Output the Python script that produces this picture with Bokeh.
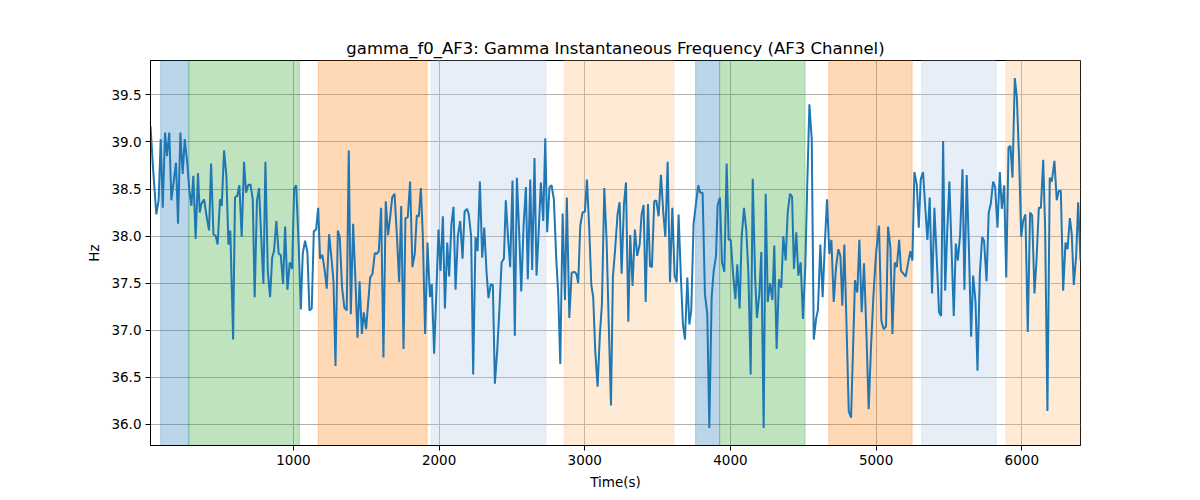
from bokeh.plotting import figure
from bokeh.models import Range1d, BoxAnnotation, FixedTicker, PrintfTickFormatter
from bokeh.embed import file_html
from bokeh.resources import INLINE

# ---- data ----
time_s = [19, 36, 59, 75, 89, 103, 119, 132, 148, 162, 194, 208, 224, 240, 254, 272, 286, 300, 313, 329,
          345, 357, 368, 387, 405, 421, 435, 451, 467, 480, 496, 508, 524, 540, 554, 567, 586, 599, 615, 629,
          645, 661, 675, 689, 705, 721, 734, 750, 764, 778, 794, 808, 824, 840, 854, 867, 883, 899, 913, 929,
          943, 959, 975, 991, 1005, 1019, 1035, 1051, 1064, 1080, 1096, 1110, 1126, 1140, 1156, 1170, 1183, 1199, 1215, 1229,
          1245, 1261, 1275, 1289, 1305, 1318, 1334, 1350, 1366, 1380, 1394, 1410, 1426, 1440, 1454, 1470, 1483, 1499, 1513, 1527,
          1543, 1559, 1573, 1586, 1602, 1618, 1634, 1650, 1664, 1678, 1694, 1710, 1726, 1740, 1756, 1769, 1785, 1801, 1817, 1833,
          1847, 1861, 1875, 1888, 1904, 1921, 1937, 1950, 1966, 1980, 1996, 2010, 2026, 2040, 2056, 2069, 2085, 2099, 2113, 2129,
          2145, 2161, 2175, 2191, 2204, 2220, 2234, 2250, 2264, 2280, 2296, 2310, 2326, 2339, 2355, 2369, 2383, 2399, 2413, 2429,
          2445, 2458, 2474, 2488, 2504, 2520, 2534, 2550, 2564, 2580, 2596, 2609, 2626, 2639, 2655, 2669, 2685, 2699, 2715, 2729,
          2742, 2758, 2772, 2788, 2804, 2818, 2832, 2848, 2864, 2877, 2894, 2910, 2928, 2942, 2955, 2969, 2985, 3001, 3015, 3031,
          3045, 3058, 3072, 3088, 3104, 3118, 3134, 3150, 3164, 3180, 3193, 3209, 3225, 3239, 3253, 3269, 3283, 3299, 3312, 3328,
          3344, 3360, 3377, 3390, 3404, 3418, 3434, 3448, 3461, 3477, 3491, 3507, 3523, 3539, 3553, 3569, 3585, 3601, 3617, 3631,
          3644, 3660, 3674, 3688, 3704, 3718, 3731, 3747, 3763, 3779, 3793, 3809, 3825, 3841, 3855, 3871, 3885, 3901, 3912, 3928,
          3942, 3958, 3974, 3988, 4002, 4018, 4034, 4047, 4063, 4077, 4093, 4109, 4123, 4139, 4153, 4169, 4182, 4198, 4212, 4228,
          4242, 4256, 4272, 4288, 4301, 4317, 4333, 4349, 4363, 4379, 4393, 4409, 4423, 4436, 4452, 4466, 4482, 4498, 4514, 4528,
          4542, 4558, 4572, 4588, 4601, 4617, 4633, 4649, 4663, 4679, 4693, 4709, 4725, 4741, 4755, 4768, 4782, 4798, 4812, 4828,
          4842, 4855, 4871, 4885, 4901, 4917, 4933, 4949, 4965, 4981, 4999, 5020, 5036, 5052, 5068, 5082, 5098, 5112, 5128, 5142,
          5158, 5171, 5187, 5203, 5219, 5235, 5249, 5263, 5279, 5293, 5306, 5322, 5338, 5352, 5368, 5384, 5400, 5416, 5432, 5446,
          5460, 5474, 5487, 5503, 5517, 5533, 5547, 5561, 5577, 5593, 5606, 5622, 5638, 5652, 5666, 5682, 5696, 5712, 5728, 5741,
          5758, 5773, 5787, 5803, 5817, 5833, 5849, 5863, 5879, 5893, 5909, 5922, 5936, 5952, 5966, 5982, 5996, 6009, 6025, 6041,
          6057, 6071, 6087, 6101, 6117, 6131, 6147, 6160, 6176, 6192, 6206, 6224, 6240, 6254, 6268, 6284, 6300, 6314, 6330, 6343,
          6357, 6373, 6387, 6403]

freq_hz = [39.17, 38.73, 38.23, 38.38, 39.03, 38.30, 39.10, 38.85, 39.10, 38.38, 38.78, 38.13, 39.10, 38.66, 39.03, 38.77, 38.48, 38.32, 38.64, 37.97,
           38.67, 38.25, 38.34, 38.39, 38.20, 38.06, 38.77, 38.02, 38.00, 37.91, 38.39, 38.32, 38.91, 38.64, 37.91, 38.06, 36.90, 38.41, 38.43, 38.54,
           37.99, 38.79, 38.46, 38.54, 38.55, 38.39, 37.35, 38.38, 38.51, 38.02, 37.49, 38.79, 37.63, 37.35, 37.77, 37.84, 38.16, 37.81, 37.80, 37.49,
           38.10, 37.43, 37.72, 37.65, 38.50, 38.54, 37.95, 37.22, 37.81, 37.95, 37.83, 37.21, 37.23, 38.05, 38.07, 38.30, 37.76, 37.80, 37.63, 37.44,
           38.02, 37.77, 37.52, 36.62, 38.06, 37.99, 37.45, 37.24, 37.21, 38.91, 37.17, 38.13, 37.52, 36.92, 37.52, 36.96, 37.19, 37.01, 37.29, 37.56,
           37.60, 37.82, 37.81, 37.84, 38.30, 36.71, 38.37, 38.01, 38.20, 38.41, 38.45, 38.02, 37.51, 38.32, 36.80, 38.19, 38.20, 38.58, 37.67, 37.81,
           38.22, 38.21, 38.51, 38.02, 36.96, 37.93, 37.35, 37.49, 36.75, 37.35, 38.07, 37.63, 38.21, 37.23, 37.93, 37.57, 38.13, 38.31, 37.43, 38.00,
           38.16, 37.76, 38.26, 38.29, 38.23, 38.00, 36.53, 37.99, 37.84, 38.58, 37.77, 38.09, 37.61, 37.34, 37.49, 37.48, 36.43, 36.78, 37.19, 37.72,
           37.76, 38.38, 37.97, 37.67, 38.59, 36.94, 38.62, 38.03, 37.41, 38.11, 38.52, 37.54, 38.60, 37.64, 38.83, 37.58, 38.09, 38.57, 38.16, 39.04,
           38.04, 38.52, 38.54, 38.39, 37.77, 37.38, 36.64, 38.24, 37.32, 38.41, 37.13, 37.61, 37.62, 37.60, 37.50, 38.11, 38.25, 38.26, 38.60, 38.07,
           37.48, 37.35, 36.78, 36.40, 36.96, 37.28, 38.51, 37.95, 37.10, 36.20, 37.56, 37.87, 38.23, 38.36, 37.60, 38.34, 38.57, 37.09, 38.01, 37.47,
           38.07, 37.79, 37.91, 38.23, 38.33, 37.30, 38.34, 37.68, 37.67, 38.37, 38.38, 38.21, 38.65, 38.25, 37.99, 38.79, 37.51, 38.30, 37.58, 37.51,
           38.23, 37.56, 37.06, 36.90, 37.56, 37.06, 37.21, 38.13, 38.34, 38.54, 38.46, 38.46, 37.38, 37.17, 35.96, 37.35, 37.63, 37.79, 38.33, 38.41,
           37.72, 37.62, 38.77, 37.96, 37.96, 37.60, 37.33, 37.70, 37.23, 37.99, 38.30, 38.06, 37.61, 36.53, 38.61, 37.58, 37.13, 37.38, 37.83, 35.96,
           38.45, 37.30, 37.50, 37.32, 37.90, 36.80, 37.54, 37.45, 38.00, 37.74, 38.25, 38.45, 38.42, 37.65, 38.04, 37.58, 37.72, 37.12, 37.68, 38.59,
           39.40, 39.03, 36.90, 37.12, 37.22, 37.91, 37.35, 37.95, 38.39, 37.81, 37.96, 37.30, 37.67, 37.86, 37.79, 37.26, 37.91, 36.99, 36.14, 36.07,
           36.82, 37.53, 37.40, 37.96, 37.19, 37.71, 36.99, 36.16, 36.82, 37.35, 37.81, 38.11, 37.10, 37.01, 37.04, 38.10, 37.88, 36.96, 37.72, 37.67,
           37.96, 37.63, 37.60, 37.57, 37.71, 37.84, 37.74, 38.68, 38.55, 38.09, 38.60, 38.68, 38.29, 37.96, 38.41, 37.39, 38.30, 37.77, 37.19, 37.15,
           39.01, 37.42, 38.00, 38.58, 37.90, 37.15, 37.92, 37.74, 38.02, 38.71, 37.43, 38.65, 37.81, 36.93, 37.58, 37.31, 36.57, 37.60, 37.99, 37.95,
           37.52, 38.25, 38.34, 38.58, 38.52, 38.09, 38.68, 38.29, 38.54, 37.56, 38.94, 38.96, 38.62, 39.68, 39.48, 38.80, 37.99, 38.16, 38.23, 36.98,
           38.25, 38.22, 37.39, 37.74, 38.30, 38.30, 38.81, 38.09, 36.14, 38.62, 38.58, 38.80, 38.38, 38.48, 38.48, 37.42, 37.93, 37.86, 38.19, 38.02,
           37.48, 37.78, 38.36, 37.74]

region_start = [89, 282, 1170, 1946, 2859, 3761, 3926, 4675, 5313, 5890]
region_end = [282, 1041, 1918, 2733, 3612, 3926, 4512, 5247, 5824, 6420]
region_color = ["#1f77b4", "#2ca02c", "#ff7f0e", "#aec7e8", "#ffbb78",
                "#1f77b4", "#2ca02c", "#ff7f0e", "#aec7e8", "#ffbb78"]

x_ticks = [1000, 2000, 3000, 4000, 5000, 6000]
y_ticks = [36.0, 36.5, 37.0, 37.5, 38.0, 38.5, 39.0, 39.5]

title_text = "gamma_f0_AF3: Gamma Instantaneous Frequency (AF3 Channel)"
x_label = "Time(s)"
y_label = "Hz"

# ---- figure ----
ymin, ymax = min(freq_hz), max(freq_hz)
pad = 0.05 * (ymax - ymin)

FONT = "DejaVu Sans"

p = figure(
    output_backend="svg", toolbar_location=None,
    frame_width=930, frame_height=385,
    min_border_left=150, min_border_right=120, min_border_top=60, min_border_bottom=55,
    x_range=Range1d(time_s[0], time_s[-1]),
    y_range=Range1d(ymin - pad, ymax + pad),
    title=title_text,
)

for s, e, c in zip(region_start, region_end, region_color):
    p.add_layout(BoxAnnotation(left=s, right=e, fill_color=c, fill_alpha=0.3,
                               line_color=c, line_alpha=0.3, line_width=1, level="underlay"))

p.line(time_s, freq_hz, line_color="#1f77b4", line_width=2)

p.title.align = "center"
p.title.text_font = FONT
p.title.text_font_size = "16.5px"
p.title.text_font_style = "normal"
p.title.text_color = "black"
p.title.standoff = 6

p.xaxis.ticker = FixedTicker(ticks=x_ticks)
p.yaxis.ticker = FixedTicker(ticks=y_ticks)
p.yaxis.formatter = PrintfTickFormatter(format="%.1f")

for ax in (p.xaxis[0], p.yaxis[0]):
    ax.major_label_text_font = FONT
    ax.major_label_text_font_size = "13.5px"
    ax.major_label_text_color = "black"
    ax.axis_label_text_font = FONT
    ax.axis_label_text_font_size = "13.5px"
    ax.axis_label_text_font_style = "normal"
    ax.axis_label_text_color = "black"
    ax.axis_line_color = "black"
    ax.major_tick_line_color = "black"
    ax.major_tick_out = 5
    ax.major_tick_in = 0
    ax.minor_tick_line_color = None
    ax.major_label_standoff = 4
    ax.axis_label_standoff = 6

p.xaxis.axis_label = x_label
p.yaxis.axis_label = y_label

p.grid.grid_line_color = "#b0b0b0"
p.grid.grid_line_width = 1
p.grid.grid_line_alpha = 1

p.outline_line_color = "black"
p.outline_line_width = 1
p.outline_line_alpha = 1
p.background_fill_color = "white"
p.border_fill_color = "white"

open("out.html", "w").write(file_html(p, INLINE))
